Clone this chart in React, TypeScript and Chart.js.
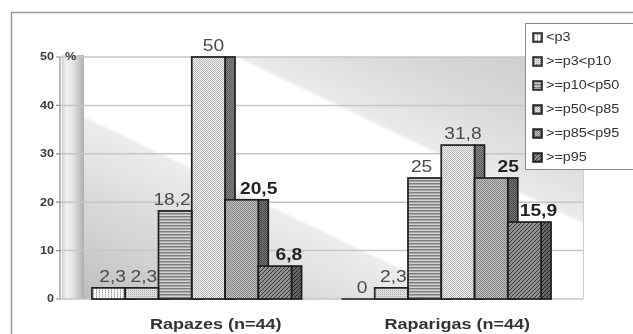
import React, { useEffect, useRef } from "react";
import { Chart, registerables } from "chart.js";

Chart.register(...registerables);

// Percentile bands by sex (% of children)
const categories = ["Rapazes (n=44)", "Raparigas (n=44)"];
const seriesNames = ["<p3", ">=p3<p10", ">=p10<p50", ">=p50<p85", ">=p85<p95", ">=p95"];
const belowP3 = [2.3, 0];
const p3toP10 = [2.3, 2.3];
const p10toP50 = [18.2, 25];
const p50toP85 = [50, 31.8];
const p85toP95 = [20.5, 25];
const aboveP95 = [6.8, 15.9];
const yTickValues = [0, 10, 20, 30, 40, 50];
const yUnit = "%";

const seriesValues = [belowP3, p3toP10, p10toP50, p50toP85, p85toP95, aboveP95];

// Styling
const FONT = '"Liberation Sans", Arial, sans-serif';
const STRETCH = 1.2; // text is drawn slightly widened
const SIDE = 10; // width of the shaded side face of each bar
const OUTLINE = 1.7;
const labelShift = [4, 2, -3, 5, 17, 14];
const labelBold = [false, false, false, false, true, true];
const categoryShift = [24, 16];

type Px = [number, number, string];

function tile(ctx: CanvasRenderingContext2D, w: number, h: number, bg: string, px: Px[]) {
  const c = document.createElement("canvas");
  c.width = w;
  c.height = h;
  const t = c.getContext("2d")!;
  t.fillStyle = bg;
  t.fillRect(0, 0, w, h);
  for (const [x, y, col] of px) {
    t.fillStyle = col;
    t.fillRect(x, y, 1, 1);
  }
  return ctx.createPattern(c, "repeat")!;
}

function diag(col: string): Px[] {
  return [
    [3, 0, col],
    [2, 1, col],
    [1, 2, col],
    [0, 3, col],
  ];
}

function buildPatterns(ctx: CanvasRenderingContext2D) {
  const front = [
    tile(ctx, 3, 2, "#fbfbfb", [[0, 0, "#a6a6a6"], [0, 1, "#cdcdcd"]]),
    tile(ctx, 2, 2, "#dedede", [[0, 0, "#acacac"]]),
    tile(ctx, 1, 3, "#d2d2d2", [[0, 0, "#7e7e7e"], [0, 1, "#a9a9a9"]]),
    tile(ctx, 2, 2, "#f1f1f1", [[0, 0, "#b6b6b6"], [1, 1, "#b6b6b6"]]),
    tile(ctx, 2, 2, "#c0c0c0", [[0, 0, "#858585"], [1, 1, "#858585"]]),
    tile(ctx, 4, 4, "#929292", diag("#363636")),
  ];
  const side = [
    tile(ctx, 3, 2, "#bdbdbd", [[0, 0, "#7a7a7a"]]),
    tile(ctx, 2, 2, "#a8a8a8", [[0, 0, "#787878"]]),
    tile(ctx, 1, 3, "#9a9a9a", [[0, 0, "#555555"]]),
    tile(ctx, 2, 2, "#8a8a8a", [[0, 0, "#585858"], [1, 1, "#585858"]]),
    tile(ctx, 2, 2, "#787878", [[0, 0, "#464646"], [1, 1, "#464646"]]),
    tile(ctx, 4, 4, "#666666", diag("#242424")),
  ];
  return { front, side };
}

function stretchedText(
  ctx: CanvasRenderingContext2D,
  text: string,
  x: number,
  y: number,
  font: string,
  color: string,
  align: CanvasTextAlign,
  baseline: CanvasTextBaseline
) {
  ctx.save();
  ctx.translate(x, y);
  ctx.scale(STRETCH, 1);
  ctx.font = font;
  ctx.fillStyle = color;
  ctx.textAlign = align;
  ctx.textBaseline = baseline;
  ctx.fillText(text, 0, 0);
  ctx.restore();
}

const fmt = (v: number) => String(v).replace(".", ",");

export default function App() {
  const ref = useRef<HTMLCanvasElement | null>(null);

  useEffect(() => {
    const canvas = ref.current!;
    const ctx0 = canvas.getContext("2d")!;
    const { front, side } = buildPatterns(ctx0);

    // Walls, frame, gridlines and value axis
    const backdrop = {
      id: "backdrop",
      beforeDraw(chart: any) {
        const { ctx, chartArea, scales } = chart;
        const y = scales.y;
        const top = y.getPixelForValue(y.max);
        const bottom = y.getPixelForValue(y.min);
        const axisX = chartArea.left - 7;
        const wallL = axisX + 2;
        const wallR = chartArea.left + 17;
        const backR = chartArea.right + 17;
        ctx.save();
        ctx.fillStyle = "#ffffff";
        ctx.fillRect(0, 0, chart.width, chart.height);

        // outer frame
        ctx.strokeStyle = "#9c9c9c";
        ctx.lineWidth = 1.5;
        ctx.beginPath();
        ctx.moveTo(11.5, chart.height);
        ctx.lineTo(11.5, 12.5);
        ctx.lineTo(chart.width, 12.5);
        ctx.stroke();

        // back wall with diagonal shading
        const k = 0.48;
        const nx = 0.433, ny = -0.902;
        const c0 = bottom - k * wallR;
        const cEnd = top - k * backR - 8;
        const t = (c0 - cEnd) / (ny * -1 + k * nx);
        const g = ctx.createLinearGradient(wallR, bottom, wallR + nx * t, bottom + ny * t);
        const stop = (c: number, col: string) => {
          const f = Math.min(1, Math.max(0, (c0 - c) / (c0 - cEnd)));
          g.addColorStop(f, col);
        };
        const cOf = (px: number, py: number) => py - k * px;
        const cWhiteLow = cOf(wallR, top + 58);
        const cWhiteHigh = cOf(wallR + 149, top);
        stop(c0, "#bdbdbd");
        stop(c0 - 40, "#c9c9c9");
        stop(c0 - 75, "#d3d3d3");
        stop(c0 - 110, "#dadada");
        stop(c0 - 140, "#e3e3e3");
        stop(cWhiteLow + 4, "#ececec");
        stop(cWhiteLow, "#ffffff");
        stop(cWhiteHigh, "#ffffff");
        stop(cWhiteHigh - 4, "#eaeaea");
        stop(cWhiteHigh - 40, "#e1e1e1");
        stop(cWhiteHigh - 80, "#d8d8d8");
        stop(cWhiteHigh - 120, "#d2d2d2");
        stop(cEnd, "#c8c8c8");
        ctx.fillStyle = g;
        ctx.fillRect(wallR, top, backR - wallR, bottom - top);
        ctx.strokeStyle = "#cfcfcf";
        ctx.lineWidth = 1;
        ctx.beginPath();
        ctx.moveTo(backR + 0.5, top);
        ctx.lineTo(backR + 0.5, bottom);
        ctx.stroke();

        // side wall
        const sg = ctx.createLinearGradient(wallL, 0, wallR, 0);
        sg.addColorStop(0, "#d0d0d0");
        sg.addColorStop(0.2, "#f3f3f3");
        sg.addColorStop(0.5, "#e4e4e4");
        sg.addColorStop(1, "#adadad");
        ctx.fillStyle = sg;
        ctx.fillRect(wallL, top - 2, wallR - wallL, bottom - top + 2);

        // gridlines
        ctx.strokeStyle = "#c6c6c6";
        ctx.lineWidth = 1.5;
        for (const v of yTickValues) {
          const py = y.getPixelForValue(v);
          ctx.beginPath();
          ctx.moveTo(axisX, py);
          ctx.lineTo(backR, py);
          ctx.stroke();
        }

        // value axis with ticks
        ctx.strokeStyle = "#8c8c8c";
        ctx.lineWidth = 1.2;
        ctx.beginPath();
        ctx.moveTo(axisX, top);
        ctx.lineTo(axisX, bottom);
        for (const v of yTickValues) {
          const py = y.getPixelForValue(v);
          ctx.moveTo(axisX - 4, py);
          ctx.lineTo(axisX, py);
        }
        ctx.stroke();

        for (const v of yTickValues) {
          const py = y.getPixelForValue(v);
          stretchedText(ctx, String(v), axisX - 6, py + 0.5, `bold 10.5px ${FONT}`, "#3a3a3a", "right", "middle");
        }
        stretchedText(ctx, yUnit, axisX + 5, top, `bold 10.5px ${FONT}`, "#3a3a3a", "left", "middle");

        // category labels
        const x = scales.x;
        categories.forEach((c, i) => {
          stretchedText(
            ctx,
            c,
            x.getPixelForValue(i) + categoryShift[i],
            chartArea.bottom + 26,
            `bold 15px ${FONT}`,
            "#333333",
            "center",
            "middle"
          );
        });
        ctx.restore();
      },
      // side faces and value labels sit behind the bar fronts
      beforeDatasetsDraw(chart: any) {
        const { ctx } = chart;
        ctx.save();
        seriesValues.forEach((vals, i) => {
          const meta = chart.getDatasetMeta(i);
          meta.data.forEach((el: any, j: number) => {
            const { x, y, base, width } = el.getProps(["x", "y", "base", "width"], true);
            if (vals[j] > 0) {
              const r = x + width / 2;
              ctx.fillStyle = side[i];
              ctx.fillRect(r, y, SIDE, base - y);
              ctx.strokeStyle = "#1e1e1e";
              ctx.lineWidth = OUTLINE;
              ctx.strokeRect(r, y, SIDE, base - y);
            }
          });
        });
        seriesValues.forEach((vals, i) => {
          const meta = chart.getDatasetMeta(i);
          meta.data.forEach((el: any, j: number) => {
            const { x, y } = el.getProps(["x", "y"], true);
            stretchedText(
              ctx,
              fmt(vals[j]),
              x + labelShift[i],
              y - 6,
              `${labelBold[i] ? "bold " : ""}16px ${FONT}`,
              labelBold[i] ? "#222222" : "#4a4a4a",
              "center",
              "alphabetic"
            );
          });
        });
        ctx.restore();
      },
      // bar outlines and legend
      afterDatasetsDraw(chart: any) {
        const { ctx } = chart;
        ctx.save();
        ctx.strokeStyle = "#1e1e1e";
        ctx.lineWidth = OUTLINE;
        seriesValues.forEach((_vals, i) => {
          const meta = chart.getDatasetMeta(i);
          meta.data.forEach((el: any) => {
            const { x, y, base, width } = el.getProps(["x", "y", "base", "width"], true);
            ctx.strokeRect(x - width / 2, y, width, base - y);
          });
        });

        // legend
        const lx = 525, ly = 23, lw = 120, lh = 146;
        ctx.fillStyle = "#ffffff";
        ctx.fillRect(lx, ly, lw, lh);
        ctx.strokeStyle = "#8a8a8a";
        ctx.lineWidth = 1;
        ctx.strokeRect(lx + 0.5, ly + 0.5, lw, lh);
        seriesNames.forEach((name, i) => {
          const cy = ly + 14 + i * 24;
          ctx.fillStyle = side[i];
          ctx.fillRect(533, cy - 4, 9, 9);
          ctx.fillStyle = front[i];
          ctx.fillRect(535, cy - 2, 5, 5);
          ctx.strokeStyle = "#1a1a1a";
          ctx.lineWidth = 1.5;
          ctx.strokeRect(533, cy - 4, 9, 9);
          stretchedText(ctx, name, 546, cy + 0.5, `12px ${FONT}`, "#333333", "left", "middle");
        });
        ctx.restore();
      },
    };

    const chart = new Chart(canvas, {
      type: "bar",
      data: {
        labels: categories,
        datasets: seriesValues.map((vals, i) => ({
          label: seriesNames[i],
          data: vals,
          backgroundColor: front[i] as any,
          borderWidth: 0,
        })),
      },
      options: {
        animation: false,
        responsive: false,
        maintainAspectRatio: false,
        layout: { padding: { left: 0, top: 57, right: 67, bottom: 0 } },
        plugins: { legend: { display: false }, tooltip: { enabled: false } },
        datasets: { bar: { categoryPercentage: 0.8, barPercentage: 1 } },
        scales: {
          x: {
            grid: { display: false },
            border: { display: false },
            ticks: { display: false },
            afterFit: (s: any) => {
              s.height = 35;
            },
          },
          y: {
            min: 0,
            max: 50,
            ticks: { display: false, stepSize: 10 },
            grid: { display: false },
            border: { display: false },
            afterFit: (s: any) => {
              s.width = 67;
            },
          },
        },
      },
      plugins: [backdrop],
    });

    return () => chart.destroy();
  }, []);

  return (
    <div style={{ position: "fixed", left: 0, top: 0, width: 633, height: 334, background: "#fff" }}>
      <canvas ref={ref} width={633} height={334} style={{ display: "block", width: 633, height: 334 }} />
    </div>
  );
}
